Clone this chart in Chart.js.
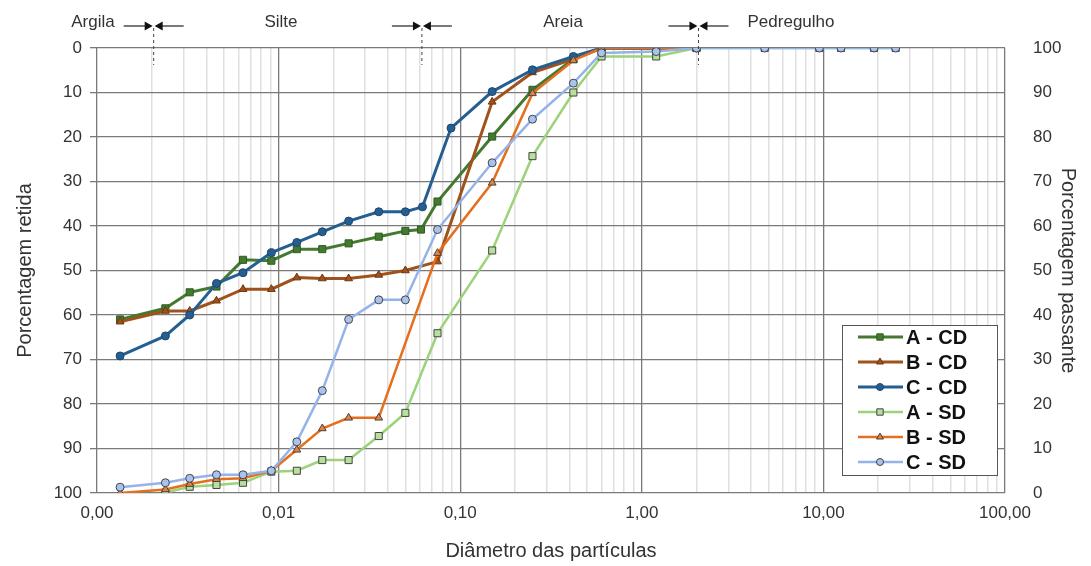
<!DOCTYPE html>
<html>
<head>
<meta charset="utf-8">
<script src="https://cdn.jsdelivr.net/npm/chart.js@4"></script>
<style>
  html, body { margin: 0; padding: 0; background: #fff; }
  #wrap { width: 1091px; height: 566px; }
</style>
</head>
<body>
<div id="wrap"><canvas id="chart"></canvas></div>
<script>
// diâmetros (mm) e porcentagem retida de cada ensaio
const diamACD = [0.00134, 0.00238, 0.00324, 0.00455, 0.00637, 0.00912, 0.0126, 0.0174, 0.0243, 0.0356, 0.0499, 0.0608, 0.075, 0.15, 0.25, 0.42, 0.6, 1.2, 2.0];
const retACD  = [61.0, 58.5, 54.9, 53.6, 47.6, 47.8, 45.2, 45.2, 43.9, 42.4, 41.1, 40.8, 34.5, 19.9, 9.4, 2.5, 0, 0, 0];

const diamBCD = [0.00134, 0.00238, 0.00324, 0.00455, 0.00637, 0.00912, 0.0126, 0.0174, 0.0243, 0.0356, 0.0499, 0.075, 0.15, 0.25, 0.42, 0.6, 1.2, 2.0];
const retBCD  = [61.5, 59.1, 59.1, 56.8, 54.2, 54.2, 51.6, 51.8, 51.8, 51.0, 50.0, 48.0, 12.1, 5.5, 2.5, 0, 0, 0];

const diamCCD = [0.00134, 0.00238, 0.00324, 0.00455, 0.00637, 0.00912, 0.0126, 0.0174, 0.0243, 0.0356, 0.0499, 0.062, 0.089, 0.15, 0.25, 0.42, 0.6, 1.2, 2.0];
const retCCD  = [69.2, 64.7, 60.0, 52.9, 50.5, 46.0, 43.7, 41.3, 38.9, 36.8, 36.8, 35.7, 18.0, 9.8, 4.9, 1.9, 0, 0, 0];

const diamASD = [0.00238, 0.00324, 0.00455, 0.00637, 0.00912, 0.0126, 0.0174, 0.0243, 0.0356, 0.0499, 0.075, 0.15, 0.25, 0.42, 0.6, 1.2, 2.0, 4.75, 9.5, 12.5, 19, 25];
const retASD  = [99.9, 98.6, 98.2, 97.7, 95.2, 95.0, 92.6, 92.6, 87.2, 82.0, 64.1, 45.5, 24.3, 10.0, 1.9, 1.9, 0, 0, 0, 0, 0, 0];

const diamBSD = [0.00134, 0.00238, 0.00324, 0.00455, 0.00637, 0.00912, 0.0126, 0.0174, 0.0243, 0.0356, 0.075, 0.15, 0.25, 0.42, 0.6, 1.2, 2.0];
const retBSD  = [100, 99.2, 98.0, 96.9, 96.7, 95.0, 90.3, 85.5, 83.1, 83.1, 46.1, 30.3, 10.2, 2.8, 0, 0, 0];

const diamCSD = [0.00134, 0.00238, 0.00324, 0.00455, 0.00637, 0.00912, 0.0126, 0.0174, 0.0243, 0.0356, 0.0499, 0.075, 0.15, 0.25, 0.42, 0.6, 1.2, 2.0, 4.75, 9.5, 12.5, 19, 25];
const retCSD  = [98.7, 97.7, 96.7, 95.9, 95.9, 95.0, 88.5, 77.0, 61.0, 56.6, 56.6, 40.8, 25.8, 16.0, 7.9, 1.1, 0.8, 0, 0, 0, 0, 0, 0];

const seriesNames = ["A - CD", "B - CD", "C - CD", "A - SD", "B - SD", "C - SD"];
const yTicks = [0, 10, 20, 30, 40, 50, 60, 70, 80, 90, 100];
// limites das frações (mm) e rótulos
const fractionLimits = [0.002, 0.06, 2.0];
const fractionNames = ["Argila", "Silte", "Areia", "Pedregulho"];

const toPoints = (d, r) => d.map((x, i) => ({ x, y: r[i] }));
const isMajor = v => Math.abs(Math.log10(v) - Math.round(Math.log10(v))) < 1e-9;

const styles = [
  { color: "#437a2f", style: "rect",     fill: "#437a2f", border: "#2f5a20", width: 3, r: 5 },
  { color: "#a0521c", style: "triangle", fill: "#a0521c", border: "#6e3610", width: 3, r: 4.5 },
  { color: "#255e91", style: "circle",   fill: "#255e91", border: "#1b466d", width: 3, r: 4 },
  { color: "#9bd37a", style: "rect",     fill: "#b7e09c", border: "#444", width: 2.5, r: 5 },
  { color: "#e46f1e", style: "triangle", fill: "#e8823a", border: "#444", width: 2.5, r: 4.5 },
  { color: "#95b3e8", style: "circle",   fill: "#a9c3ef", border: "#444", width: 2.5, r: 4 },
];

const allData = [
  toPoints(diamACD, retACD), toPoints(diamBCD, retBCD), toPoints(diamCCD, retCCD),
  toPoints(diamASD, retASD), toPoints(diamBSD, retBSD), toPoints(diamCSD, retCSD),
];

const datasets = allData.map((data, i) => ({
  label: seriesNames[i],
  data,
  borderColor: styles[i].color,
  backgroundColor: styles[i].fill,
  borderWidth: styles[i].width,
  pointStyle: styles[i].style,
  pointRadius: styles[i].r,
  pointBackgroundColor: styles[i].fill,
  pointBorderColor: styles[i].border,
  pointBorderWidth: 1,
  tension: 0,
  order: 6 - i,
}));

const FONT = "'Liberation Sans', Arial, sans-serif";

// faixas granulométricas no topo (setas, linhas tracejadas e nomes)
const fractionsPlugin = {
  id: "fractions",
  afterDraw(chart) {
    const { ctx, scales: { x } } = chart;
    ctx.save();
    ctx.fillStyle = "#333";
    ctx.font = "17px " + FONT;
    ctx.textBaseline = "middle";
    ctx.textAlign = "center";
    const labelX = [93, 281, 563, 791];
    fractionNames.forEach((t, i) => ctx.fillText(t, labelX[i], 22));

    const ay = 26;
    fractionLimits.forEach(lim => {
      const px = x.getPixelForValue(lim) + 2;
      ctx.strokeStyle = "#222";
      ctx.fillStyle = "#111";
      ctx.lineWidth = 1.2;
      // seta da esquerda
      ctx.beginPath(); ctx.moveTo(px - 30, ay); ctx.lineTo(px - 8, ay); ctx.stroke();
      ctx.beginPath(); ctx.moveTo(px - 1, ay); ctx.lineTo(px - 9, ay - 4.5); ctx.lineTo(px - 9, ay + 4.5); ctx.closePath(); ctx.fill();
      // seta da direita
      ctx.beginPath(); ctx.moveTo(px + 30, ay); ctx.lineTo(px + 8, ay); ctx.stroke();
      ctx.beginPath(); ctx.moveTo(px + 1, ay); ctx.lineTo(px + 9, ay - 4.5); ctx.lineTo(px + 9, ay + 4.5); ctx.closePath(); ctx.fill();
      // linha tracejada
      ctx.setLineDash([3, 3]);
      ctx.lineWidth = 1;
      ctx.strokeStyle = "#444";
      ctx.beginPath(); ctx.moveTo(px, 28); ctx.lineTo(px, 65); ctx.stroke();
      ctx.setLineDash([]);
    });
    ctx.restore();
  },
};

// legenda em caixa no canto inferior direito
const boxLegend = {
  id: "boxLegend",
  afterDraw(chart) {
    const { ctx } = chart;
    const bx = 842, by = 325, bw = 155, bh = 150;
    ctx.save();
    ctx.fillStyle = "#fff";
    ctx.fillRect(bx, by, bw, bh);
    ctx.strokeStyle = "#555";
    ctx.lineWidth = 1;
    ctx.strokeRect(bx + 0.5, by + 0.5, bw, bh);
    chart.data.datasets.forEach((ds, i) => {
      const y = by + 12 + i * 25;
      ctx.strokeStyle = ds.borderColor;
      ctx.lineWidth = ds.borderWidth;
      ctx.beginPath(); ctx.moveTo(858, y); ctx.lineTo(903, y); ctx.stroke();
      ctx.fillStyle = ds.pointBackgroundColor;
      ctx.strokeStyle = ds.pointBorderColor;
      ctx.lineWidth = 1;
      Chart.helpers.drawPoint(ctx, { pointStyle: ds.pointStyle, radius: ds.pointRadius - 0.5, rotation: 0, borderWidth: 1 }, 880, y);
      ctx.fillStyle = "#111";
      ctx.font = "bold 20px " + FONT;
      ctx.textAlign = "left";
      ctx.textBaseline = "middle";
      ctx.fillText(ds.label, 906, y + 1);
    });
    ctx.restore();
  },
};

new Chart(document.getElementById("chart"), {
  type: "line",
  data: { datasets },
  plugins: [fractionsPlugin, boxLegend],
  options: {
    responsive: true,
    maintainAspectRatio: false,
    animation: false,
    layout: { padding: { top: 48, left: 0, right: 0, bottom: 0 } },
    plugins: { legend: { display: false }, tooltip: { enabled: false } },
    scales: {
      x: {
        type: "logarithmic",
        min: 0.001,
        max: 100,
        afterFit: s => { s.height = 73; },
        afterBuildTicks: s => {
          const ticks = [];
          for (let e = -3; e <= 1; e++) {
            for (let m = 1; m <= 9; m++) ticks.push({ value: m * Math.pow(10, e) });
          }
          ticks.push({ value: 100 });
          s.ticks = ticks;
        },
        ticks: {
          autoSkip: false,
          maxRotation: 0,
          padding: 10,
          color: "#333",
          font: { family: FONT, size: 17 },
          callback: v => isMajor(v) ? v.toFixed(2).replace(".", ",") : "",
        },
        grid: {
          drawTicks: false,
          color: c => (c.tick && isMajor(c.tick.value)) ? "#7a7a7a" : "#e0e0e0",
          lineWidth: c => (c.tick && isMajor(c.tick.value)) ? 1.3 : 1.5,
        },
        border: { display: false },
        title: {
          display: true,
          text: "Diâmetro das partículas",
          color: "#333",
          font: { family: FONT, size: 20 },
          padding: { top: 0, bottom: 3 },
        },
      },
      y: {
        position: "left",
        reverse: true,
        min: 0,
        max: 100,
        afterFit: s => { s.width = 97; },
        afterBuildTicks: s => { s.ticks = yTicks.map(v => ({ value: v })); },
        ticks: {
          color: "#333",
          padding: 8,
          font: { family: FONT, size: 17 },
        },
        grid: { color: "#7a7a7a", tickLength: 7, lineWidth: 1.3 },
        border: { display: false },
        title: {
          display: true,
          text: "Porcentagem retida",
          color: "#333",
          font: { family: FONT, size: 20 },
          padding: { top: 13, bottom: 0 },
        },
      },
      y2: {
        position: "right",
        min: 0,
        max: 100,
        afterFit: s => { s.width = 86; },
        afterBuildTicks: s => { s.ticks = yTicks.map(v => ({ value: v })); },
        ticks: {
          color: "#333",
          padding: 28,
          font: { family: FONT, size: 17 },
        },
        grid: { drawOnChartArea: false, drawTicks: false },
        border: { display: false },
        title: {
          display: true,
          text: "Porcentagem passante",
          color: "#333",
          font: { family: FONT, size: 20 },
          padding: { top: 11, bottom: 0 },
        },
      },
    },
  },
});
</script>
</body>
</html>
